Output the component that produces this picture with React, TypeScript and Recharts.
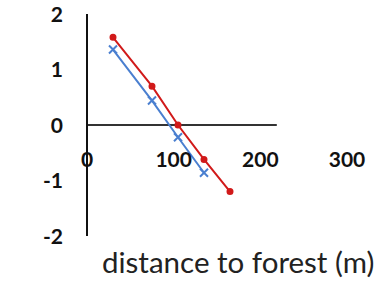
import { ComposedChart, Label, Line, ReferenceLine, XAxis, YAxis } from "recharts";

const distances = [30, 75, 105, 135, 165];
const redValues = [1.58, 0.7, 0.0, -0.62, -1.2];
const blueValues = [1.36, 0.44, -0.22, -0.86];
const xTicks = [0, 100, 200, 300];
const yTicks = [-2, -1, 0, 1, 2];
const xTitle = "distance to forest (m)";

const redData = redValues.map((v, i) => ({ x: distances[i], y: v }));
const blueData = blueValues.map((v, i) => ({ x: distances[i], y: v }));

const font = "Lato, 'Open Sans', sans-serif";

function XTick(props: any) {
  const { x, y, payload } = props;
  return (
    <text x={x} y={y - 69} textAnchor="middle" fontFamily={font} fontWeight={700} fontSize={21} fill="#111">
      {payload.value}
    </text>
  );
}

function YTick(props: any) {
  const { y, payload } = props;
  return (
    <text x={63} y={y} dy="0.36em" textAnchor="end" fontFamily={font} fontWeight={700} fontSize={21} fill="#111">
      {payload.value}
    </text>
  );
}

function Cross(props: any) {
  const { cx, cy } = props;
  if (cx == null || cy == null) return null;
  return (
    <path d={`M${cx - 4},${cy - 4}L${cx + 4},${cy + 4}M${cx - 4},${cy + 4}L${cx + 4},${cy - 4}`} stroke="#4a7fd0" strokeWidth={2} />
  );
}

function TitleLabel(props: any) {
  const { viewBox } = props;
  return (
    <text x={viewBox.x + 15} y={viewBox.y + 37} fontFamily={font} fontSize={29.5} fill="#222">
      {xTitle}
    </text>
  );
}

export default function App() {
  return (
    <div style={{ position: "absolute", left: 0, top: 0, width: 386, height: 290, background: "#fff", overflow: "hidden" }}>
      <ComposedChart width={386} height={290} margin={{ top: 14, right: 39, bottom: 0, left: 0 }}>
        <XAxis type="number" dataKey="x" domain={[0, 300]} ticks={xTicks} interval={0} axisLine={false} tickLine={false} tickSize={0} tickMargin={0} height={54} tick={<XTick />}>
          <Label content={<TitleLabel />} />
        </XAxis>
        <YAxis type="number" domain={[-2, 2]} ticks={yTicks} interval={0} width={87} tickLine={false} axisLine={{ stroke: "#111", strokeWidth: 2 }} tick={<YTick />} />
        <ReferenceLine segment={[{ x: 0, y: 0 }, { x: 219, y: 0 }]} stroke="#333" strokeWidth={2} ifOverflow="visible" />
        <Line data={redData} dataKey="y" type="linear" stroke="#d11a1a" strokeWidth={2} dot={{ r: 2.5, fill: "#d11a1a", stroke: "#d11a1a" }} isAnimationActive={false} />
        <Line data={blueData} dataKey="y" type="linear" stroke="#4a7fd0" strokeWidth={2} dot={<Cross />} isAnimationActive={false} />
      </ComposedChart>
    </div>
  );
}
